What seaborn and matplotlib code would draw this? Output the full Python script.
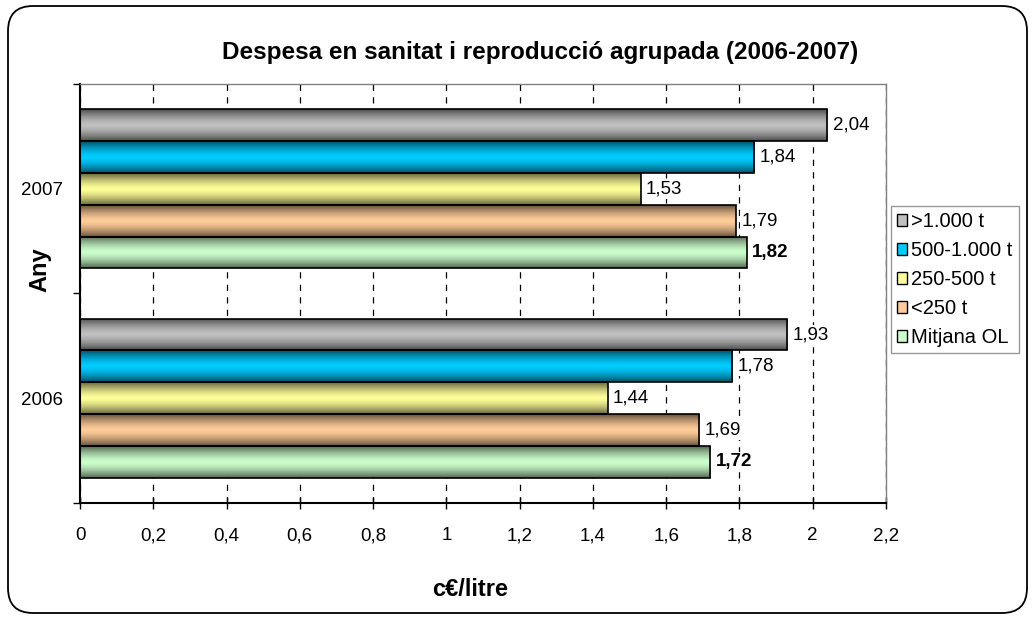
import numpy as np
import pandas as pd
import matplotlib
matplotlib.use("Agg")
import matplotlib.pyplot as plt
import matplotlib.colors as mcolors
from matplotlib.patches import FancyBboxPatch, Patch
import seaborn as sns

years = ["2007", "2006"]
groups = [">1.000 t", "500-1.000 t", "250-500 t", "<250 t", "Mitjana OL"]
values_2007 = [2.04, 1.84, 1.53, 1.79, 1.82]
values_2006 = [1.93, 1.78, 1.44, 1.69, 1.72]
colors = ["#c0c0c0", "#00ccff", "#ffff99", "#ffcc99", "#ccffcc"]
xticks = [0, 0.2, 0.4, 0.6, 0.8, 1, 1.2, 1.4, 1.6, 1.8, 2, 2.2]

df = pd.DataFrame({
    "Any": np.repeat(years, len(groups)),
    "grup": groups * len(years),
    "valor": values_2007 + values_2006,
})

sns.set_style("white")
plt.rcParams["font.family"] = ["Liberation Sans", "DejaVu Sans"]
plt.rcParams.update({"text.color": "black", "xtick.color": "black",
                     "ytick.color": "black", "axes.labelcolor": "black"})

fig = plt.figure(figsize=(10.35, 6.19), dpi=100)
ax = fig.add_axes([0.0773, 0.1874, 0.7787, 0.6769])

sns.barplot(data=df, y="Any", x="valor", hue="grup", order=years,
            hue_order=groups, palette=colors, orient="h", width=0.76,
            edgecolor="black", linewidth=1.2, legend=False, ax=ax)


def shade(base, n=64):
    # cylinder-like shading: dark edges, light centre
    rgb = np.array(mcolors.to_rgb(base))
    t = np.linspace(0, 1, n)
    f = 1 - 0.6 * np.abs(2 * t - 1) ** 1.5
    return (rgb[None, :] * f[:, None])[:, None, :]


for cont, col in zip(ax.containers, colors):
    img = shade(col)
    for p in cont:
        bb = p.get_bbox()
        im = ax.imshow(img, extent=[bb.x0, bb.x1, bb.y1, bb.y0],
                       aspect="auto", interpolation="bilinear", zorder=2)
        im.set_clip_path(p)
        p.set_facecolor("none")
        p.set_zorder(3)

ax.set_xlim(0, 2.2)
ax.set_ylim(1.5, -0.5)
ax.set_aspect("auto")

for i, cont in enumerate(ax.containers):
    labs = [f"{v:.2f}".replace(".", ",") for v in cont.datavalues]
    txts = ax.bar_label(cont, labels=labs, padding=4, fontsize=13.5, color="black",
                        fontweight="bold" if groups[i] == "Mitjana OL" else "normal")
    for t in txts:
        t.set_bbox(dict(facecolor="white", edgecolor="none", pad=1))
        t.set_zorder(4)

ax.set_xticks(xticks)
ax.set_xticklabels([f"{v:g}".replace(".", ",") for v in xticks], fontsize=13.5)
ax.set_yticks([-0.5, 0.5, 1.5])
ax.set_yticklabels([])
ax.set_yticks([0, 1], minor=True)
ax.set_yticklabels(years, minor=True, fontsize=13.5)
ax.tick_params(axis="y", which="major", direction="out", length=5, width=1, color="black", left=True)
ax.tick_params(axis="y", which="minor", length=0, pad=12)
ax.tick_params(axis="x", direction="inout", length=8.6, width=1, color="black", bottom=True, pad=13)

ax.grid(axis="x", color="black", linestyle=(0, (5, 5)), linewidth=0.9)
ax.set_axisbelow(True)
for s in ["top", "right"]:
    ax.spines[s].set_color("#808080")
    ax.spines[s].set_linewidth(1)
for s in ["left", "bottom"]:
    ax.spines[s].set_color("black")
    ax.spines[s].set_linewidth(1.5)

ax.set_xlabel("")
ax.set_ylabel("")
fig.text(540 / 1035, 1 - 52 / 619, "Despesa en sanitat i reproducció agrupada (2006-2007)",
         ha="center", va="center", fontsize=17.5, fontweight="bold")
fig.text(470 / 1035, 1 - 589 / 619, "c€/litre", ha="center", va="center",
         fontsize=17, fontweight="bold")
fig.text(40 / 1035, 1 - 270 / 619, "Any", ha="center", va="center",
         rotation=90, fontsize=17, fontweight="bold")

handles = [Patch(facecolor=c, edgecolor="black", linewidth=1) for c in colors]
leg = fig.legend(handles, groups, loc="upper left", bbox_to_anchor=(891 / 1035, 1 - 206 / 619),
                 fontsize=14.5, frameon=True, fancybox=False, handlelength=0.5,
                 handleheight=0.5, handletextpad=0.2, labelspacing=0.5,
                 borderpad=0.3, borderaxespad=0)
leg.get_frame().set_edgecolor("#808080")
leg.get_frame().set_linewidth(1)

border = FancyBboxPatch((0.08, 0.06), 10.19, 6.07,
                        boxstyle="round,pad=0,rounding_size=0.25",
                        transform=fig.dpi_scale_trans, facecolor="none",
                        edgecolor="black", linewidth=1.3)
fig.patches.append(border)

fig.savefig("out.png", dpi=100)
